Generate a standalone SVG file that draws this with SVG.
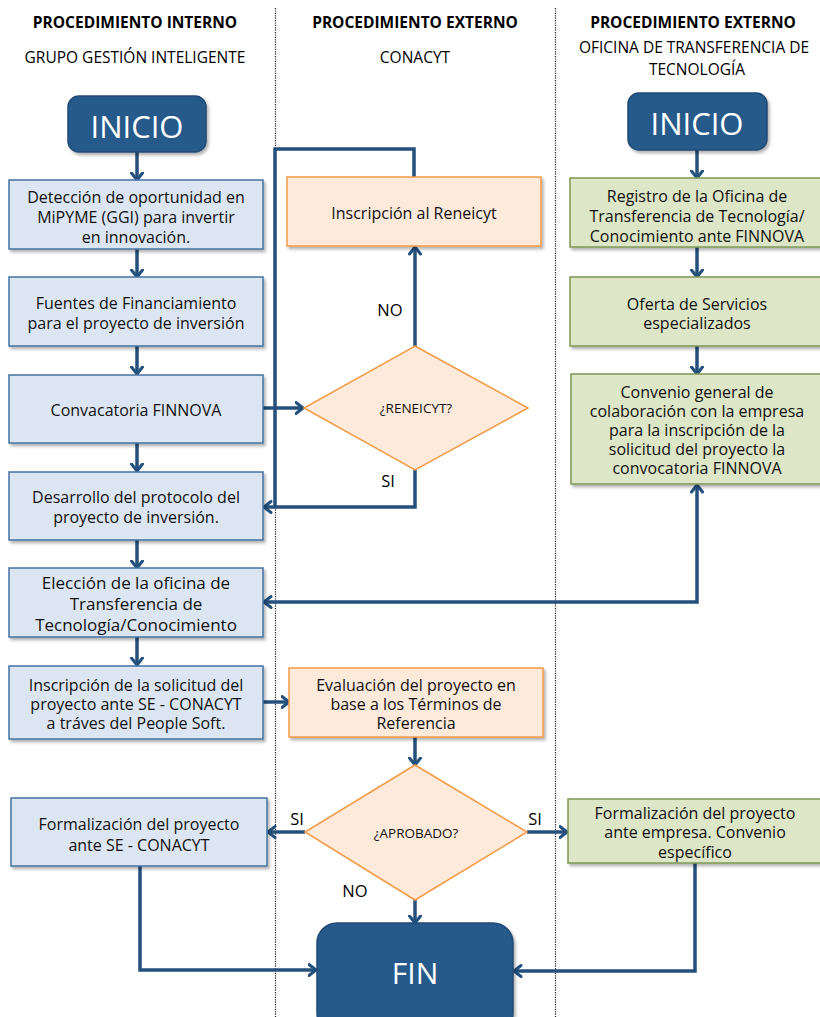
<svg xmlns="http://www.w3.org/2000/svg" width="820" height="1017" viewBox="0 0 820 1017">
<defs>
<filter id="sh" x="-10%" y="-10%" width="125%" height="130%">
<feDropShadow dx="2" dy="2.5" stdDeviation="1.5" flood-color="#000" flood-opacity="0.3"/>
</filter>
<marker id="arr" viewBox="0 0 10 14" markerWidth="10" markerHeight="14" refX="8.5" refY="7" orient="auto-start-reverse" markerUnits="userSpaceOnUse">
<path d="M1.5,1.5 L8.5,7 L1.5,12.5" fill="none" stroke="#24507d" stroke-width="3" stroke-linecap="round" stroke-linejoin="round"/>
</marker>
<style>
.hdr{font-family:"Open Sans","Liberation Sans",sans-serif;font-weight:bold;font-size:15.5px;fill:#000;text-anchor:middle}
.sub{font-family:"Open Sans","Liberation Sans",sans-serif;font-size:15.5px;fill:#000;text-anchor:middle}
.t{font-family:"Open Sans","Liberation Sans",sans-serif;font-size:16px;fill:#111;text-anchor:middle}
.dt{font-family:"Open Sans","Liberation Sans",sans-serif;font-size:13.5px;fill:#111;text-anchor:middle}
.lbl{font-family:"Open Sans","Liberation Sans",sans-serif;font-size:16.5px;fill:#000;text-anchor:middle}
.big{font-family:"Open Sans","Liberation Sans",sans-serif;font-size:31px;fill:#fff;text-anchor:middle}
.term{fill:#285a8b;stroke:#1f4a75;stroke-width:1.5;filter:url(#sh)}
.blue{fill:#dce6f2;stroke:#4572a3;stroke-width:1.5;filter:url(#sh)}
.orng{fill:#fdeadb;stroke:#f39a45;stroke-width:1.5;filter:url(#sh)}
.grn{fill:#dde6c6;stroke:#7d9755;stroke-width:1.5;filter:url(#sh)}
.dia{fill:#fdeadb;stroke:#f39a45;stroke-width:1.5}
.c{fill:none;stroke:#24507d;stroke-width:3.5}
.div{stroke:#222;stroke-width:1.2;stroke-dasharray:1.2,1.2}
</style>
</defs>
<rect width="820" height="1017" fill="#fff"/>

<g id="dividers">
<line class="div" x1="275.5" y1="8" x2="275.5" y2="1017"/>
<line class="div" x1="555.5" y1="8" x2="555.5" y2="1017"/>
</g>

<g id="headers">
<text class="hdr" x="135" y="27.5">PROCEDIMIENTO INTERNO</text>
<text class="sub" x="135" y="62.5">GRUPO GESTIÓN INTELIGENTE</text>
<text class="hdr" x="415" y="27.5">PROCEDIMIENTO EXTERNO</text>
<text class="sub" x="415" y="62.5">CONACYT</text>
<text class="hdr" x="693" y="27.5">PROCEDIMIENTO EXTERNO</text>
<text class="sub" x="694" y="52.5">OFICINA DE TRANSFERENCIA DE</text>
<text class="sub" x="697" y="75">TECNOLOGÍA</text>
</g>

<g id="connectors">
<line class="c" x1="137" y1="152" x2="137" y2="180" marker-end="url(#arr)"/>
<line class="c" x1="137" y1="249" x2="137" y2="277" marker-end="url(#arr)"/>
<line class="c" x1="137" y1="346" x2="137" y2="374" marker-end="url(#arr)"/>
<line class="c" x1="137" y1="443" x2="137" y2="471" marker-end="url(#arr)"/>
<line class="c" x1="137" y1="540" x2="137" y2="568" marker-end="url(#arr)"/>
<line class="c" x1="137" y1="637" x2="137" y2="665" marker-end="url(#arr)"/>
<line class="c" x1="263" y1="408" x2="303" y2="408" marker-end="url(#arr)"/>
<line class="c" x1="415" y1="346" x2="415" y2="247" marker-end="url(#arr)"/>
<polyline class="c" points="414,177 414,149 275,149 275,507"/>
<polyline class="c" points="415,470 415,507 264,507" marker-end="url(#arr)"/>
<line class="c" x1="263" y1="702" x2="289" y2="702" marker-end="url(#arr)"/>
<line class="c" x1="415" y1="737" x2="415" y2="765" marker-end="url(#arr)"/>
<line class="c" x1="305" y1="832" x2="268" y2="832" marker-end="url(#arr)"/>
<line class="c" x1="527" y1="832" x2="567" y2="832" marker-end="url(#arr)"/>
<line class="c" x1="415" y1="900" x2="415" y2="923" marker-end="url(#arr)"/>
<polyline class="c" points="140,866 140,970 316,970" marker-end="url(#arr)"/>
<polyline class="c" points="695,863 695,971 514,971" marker-end="url(#arr)"/>
<line class="c" x1="697" y1="150" x2="697" y2="178" marker-end="url(#arr)"/>
<line class="c" x1="697" y1="247" x2="697" y2="277" marker-end="url(#arr)"/>
<line class="c" x1="697" y1="346" x2="697" y2="374" marker-end="url(#arr)"/>
<polyline class="c" points="264,602 697,602 697,485" marker-start="url(#arr)" marker-end="url(#arr)"/>
</g>

<g id="labels">
<text class="lbl" x="390" y="316">NO</text>
<text class="lbl" x="388" y="487">SI</text>
<text class="lbl" x="297" y="825">SI</text>
<text class="lbl" x="535" y="825">SI</text>
<text class="lbl" x="355" y="897">NO</text>
</g>

<g id="inicio-left">
<rect class="term" x="68" y="96" width="138" height="56" rx="11"/>
<text class="big" x="137" y="138">INICIO</text>
</g>
<g id="deteccion">
<rect class="blue" x="9" y="180" width="254" height="69"/>
<text class="t"><tspan x="136" y="202.5">Detección de oportunidad en</tspan><tspan x="136" y="222.5">MiPYME (GGI) para invertir</tspan><tspan x="136" y="242.5">en innovación.</tspan></text>
</g>
<g id="fuentes">
<rect class="blue" x="9" y="277" width="254" height="69"/>
<text class="t"><tspan x="136" y="308.5">Fuentes de Financiamiento</tspan><tspan x="136" y="328.5">para el proyecto de inversión</tspan></text>
</g>
<g id="convocatoria">
<rect class="blue" x="9" y="375" width="254" height="68"/>
<text class="t" x="136" y="415.5">Convacatoria FINNOVA</text>
</g>
<g id="desarrollo">
<rect class="blue" x="9" y="472" width="254" height="68"/>
<text class="t"><tspan x="136" y="502.5">Desarrollo del protocolo del</tspan><tspan x="136" y="522.5">proyecto de inversión.</tspan></text>
</g>
<g id="eleccion">
<rect class="blue" x="9" y="568" width="254" height="69"/>
<text class="t" style="font-size:17px"><tspan x="136" y="589">Elección de la oficina de</tspan><tspan x="136" y="610">Transferencia de</tspan><tspan x="136" y="631">Tecnología/Conocimiento</tspan></text>
</g>
<g id="inscripcion-solicitud">
<rect class="blue" x="9" y="666" width="254" height="73"/>
<text class="t"><tspan x="136" y="690.5">Inscripción de la solicitud del</tspan><tspan x="136" y="709.5">proyecto ante SE - CONACYT</tspan><tspan x="136" y="728.5">a tráves del People Soft.</tspan></text>
</g>
<g id="formalizacion-se">
<rect class="blue" x="11" y="798" width="256" height="68"/>
<text class="t"><tspan x="139" y="829.5">Formalización del proyecto</tspan><tspan x="139" y="850.5">ante SE - CONACYT</tspan></text>
</g>

<g id="reneicyt">
<rect class="orng" x="287" y="177" width="254" height="69"/>
<text class="t" x="414" y="218.5">Inscripción al Reneicyt</text>
</g>
<g id="dec-reneicyt">
<polygon class="dia" points="415,346 528,408 415,470 304,408"/>
<text class="dt" x="416" y="413">¿RENEICYT?</text>
</g>
<g id="evaluacion">
<rect class="orng" x="289" y="668" width="254" height="69"/>
<text class="t"><tspan x="416" y="690.5">Evaluación del proyecto en</tspan><tspan x="416" y="709.5">base a los Términos de</tspan><tspan x="416" y="728.5">Referencia</tspan></text>
</g>
<g id="dec-aprobado">
<polygon class="dia" points="415,765 527,832 415,900 305,832"/>
<text class="dt" x="416" y="837.5">¿APROBADO?</text>
</g>
<g id="fin">
<rect class="term" x="317" y="923" width="196" height="110" rx="20"/>
<text class="big" x="415" y="984" style="font-size:30px">FIN</text>
</g>

<g id="inicio-right">
<rect class="term" x="628" y="93" width="139" height="57" rx="11"/>
<text class="big" x="697" y="135">INICIO</text>
</g>
<g id="registro">
<rect class="grn" x="570" y="178" width="254" height="69"/>
<text class="t"><tspan x="697" y="201.5">Registro de la Oficina de</tspan><tspan x="697" y="221.5">Transferencia de Tecnología/</tspan><tspan x="697" y="241.5">Conocimiento ante FINNOVA</tspan></text>
</g>
<g id="oferta">
<rect class="grn" x="570" y="277" width="254" height="69"/>
<text class="t"><tspan x="697" y="309.5">Oferta de Servicios</tspan><tspan x="697" y="328.5">especializados</tspan></text>
</g>
<g id="convenio-general">
<rect class="grn" x="571" y="374" width="254" height="110"/>
<text class="t"><tspan x="697" y="397.5">Convenio general de</tspan><tspan x="697" y="416.5">colaboración con la empresa</tspan><tspan x="697" y="435.5">para la inscripción de la</tspan><tspan x="697" y="454.5">solicitud del proyecto la</tspan><tspan x="697" y="473.5">convocatoria FINNOVA</tspan></text>
</g>
<g id="formalizacion-empresa">
<rect class="grn" x="568" y="799" width="256" height="64"/>
<text class="t"><tspan x="695" y="818.5">Formalización del proyecto</tspan><tspan x="695" y="837.5">ante empresa. Convenio</tspan><tspan x="695" y="857.5">específico</tspan></text>
</g>
</svg>
